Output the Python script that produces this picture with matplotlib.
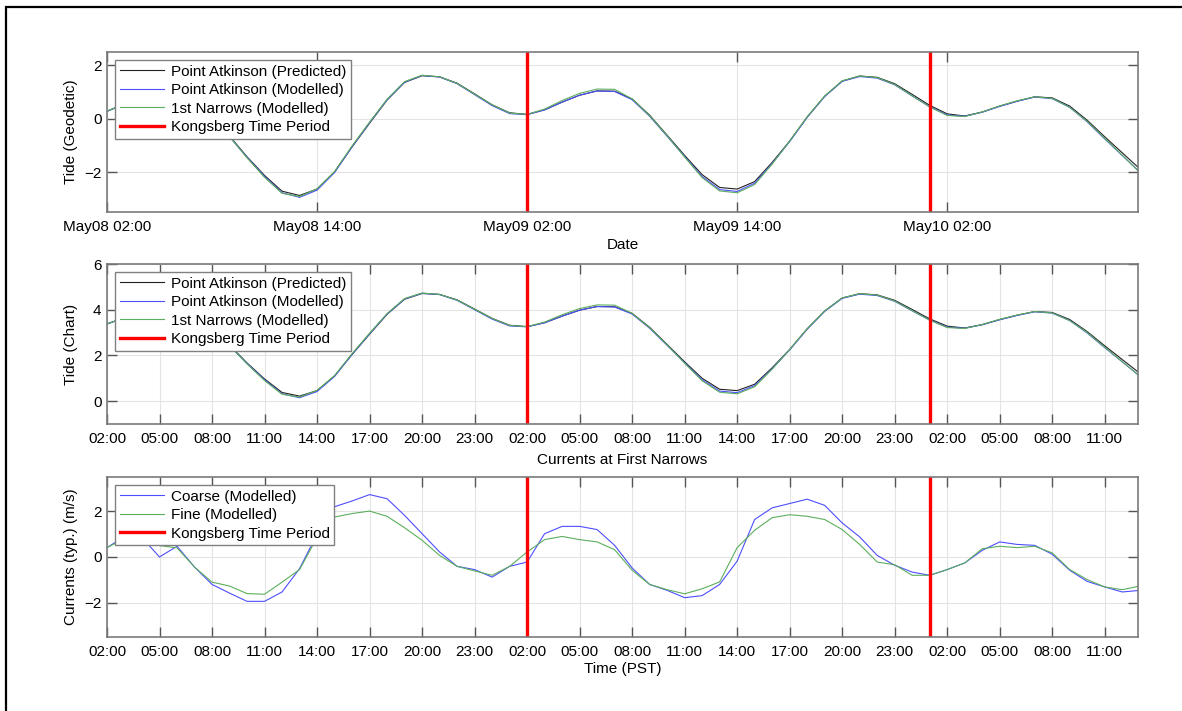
import matplotlib
matplotlib.use('Agg')
import matplotlib.pyplot as plt
from matplotlib.patches import Rectangle

plt.rcParams['font.family'] = ['Liberation Sans', 'DejaVu Sans']
plt.rcParams['font.size'] = 11

# hours since May08 02:00 (PST), one sample per hour
hours = list(range(60))

# tide, geodetic datum (m)
pa_pred_geo = [0.28, 0.55, 0.85, 1.00, 0.96, 0.64, 0.05, -0.65, -1.43, -2.13,
               -2.72, -2.88, -2.64, -2.00, -1.06, -0.17, 0.70, 1.36, 1.61, 1.57,
               1.33, 0.93, 0.52, 0.22, 0.16, 0.33, 0.62, 0.88, 1.04, 1.03,
               0.74, 0.13, -0.62, -1.38, -2.10, -2.58, -2.64, -2.36, -1.64, -0.84,
               0.06, 0.84, 1.41, 1.60, 1.55, 1.31, 0.91, 0.50, 0.18, 0.10,
               0.25, 0.47, 0.66, 0.82, 0.78, 0.47, -0.06, -0.68, -1.28, -1.88]
pa_mod_geo = [0.27, 0.55, 0.85, 1.00, 0.95, 0.62, 0.02, -0.68, -1.45, -2.17,
              -2.78, -2.95, -2.68, -2.02, -1.05, -0.15, 0.71, 1.37, 1.62, 1.56,
              1.31, 0.90, 0.49, 0.19, 0.15, 0.33, 0.62, 0.88, 1.04, 1.02,
              0.71, 0.09, -0.66, -1.42, -2.17, -2.66, -2.73, -2.42, -1.68, -0.86,
              0.05, 0.83, 1.40, 1.58, 1.52, 1.27, 0.85, 0.45, 0.14, 0.09,
              0.24, 0.46, 0.65, 0.81, 0.75, 0.43, -0.12, -0.76, -1.38, -2.00]
fn_mod_geo = [0.28, 0.56, 0.86, 1.02, 0.97, 0.63, 0.03, -0.67, -1.47, -2.20,
              -2.80, -2.92, -2.63, -1.98, -1.02, -0.13, 0.73, 1.39, 1.63, 1.57,
              1.32, 0.92, 0.52, 0.21, 0.16, 0.36, 0.68, 0.95, 1.11, 1.10,
              0.74, 0.11, -0.64, -1.44, -2.21, -2.71, -2.78, -2.47, -1.70, -0.84,
              0.07, 0.85, 1.42, 1.60, 1.54, 1.28, 0.86, 0.44, 0.12, 0.08,
              0.25, 0.48, 0.67, 0.82, 0.76, 0.42, -0.10, -0.74, -1.37, -2.02]

# tide, chart datum (m)
pa_pred_chart = [3.38, 3.65, 3.95, 4.10, 4.06, 3.74, 3.15, 2.45, 1.67, 0.97,
                 0.38, 0.22, 0.46, 1.10, 2.04, 2.93, 3.80, 4.46, 4.71, 4.67,
                 4.43, 4.03, 3.62, 3.32, 3.26, 3.43, 3.72, 3.98, 4.14, 4.13,
                 3.84, 3.23, 2.48, 1.72, 1.00, 0.52, 0.46, 0.74, 1.46, 2.26,
                 3.16, 3.94, 4.51, 4.70, 4.65, 4.41, 4.01, 3.60, 3.28, 3.20,
                 3.35, 3.57, 3.76, 3.92, 3.88, 3.57, 3.04, 2.42, 1.82, 1.22]
pa_mod_chart = [3.37, 3.65, 3.95, 4.10, 4.05, 3.72, 3.12, 2.42, 1.65, 0.93,
                0.32, 0.15, 0.42, 1.08, 2.05, 2.95, 3.81, 4.47, 4.72, 4.66,
                4.41, 4.00, 3.59, 3.29, 3.25, 3.43, 3.72, 3.98, 4.14, 4.12,
                3.81, 3.19, 2.44, 1.68, 0.93, 0.44, 0.37, 0.68, 1.42, 2.24,
                3.15, 3.93, 4.50, 4.68, 4.62, 4.37, 3.95, 3.55, 3.24, 3.19,
                3.34, 3.56, 3.75, 3.91, 3.85, 3.53, 2.98, 2.34, 1.72, 1.10]
fn_mod_chart = [3.38, 3.66, 3.96, 4.12, 4.07, 3.73, 3.13, 2.43, 1.63, 0.90,
                0.30, 0.18, 0.47, 1.12, 2.08, 2.97, 3.83, 4.49, 4.73, 4.67,
                4.42, 4.02, 3.62, 3.31, 3.26, 3.46, 3.78, 4.05, 4.21, 4.20,
                3.84, 3.21, 2.46, 1.66, 0.89, 0.39, 0.32, 0.63, 1.40, 2.26,
                3.17, 3.95, 4.52, 4.70, 4.64, 4.38, 3.96, 3.54, 3.22, 3.18,
                3.35, 3.58, 3.77, 3.92, 3.86, 3.52, 3.00, 2.36, 1.73, 1.08]

# currents at First Narrows (m/s)
coarse = [0.41, 0.90, 0.85, 0.00, 0.47, -0.44, -1.20, -1.58, -1.94, -1.94,
          -1.53, -0.51, 1.00, 2.20, 2.45, 2.73, 2.55, 1.82, 1.02, 0.22,
          -0.41, -0.55, -0.88, -0.41, -0.22, 1.02, 1.34, 1.34, 1.20, 0.51,
          -0.48, -1.20, -1.46, -1.78, -1.69, -1.20, -0.18, 1.64, 2.15, 2.34,
          2.53, 2.26, 1.49, 0.88, 0.07, -0.36, -0.66, -0.80, -0.55, -0.26,
          0.29, 0.66, 0.55, 0.51, 0.12, -0.58, -1.07, -1.31, -1.53, -1.46]
fine = [0.41, 0.80, 0.75, 0.50, 0.40, -0.44, -1.10, -1.27, -1.60, -1.63,
        -1.10, -0.55, 0.85, 1.75, 1.90, 2.01, 1.78, 1.28, 0.73, 0.07,
        -0.41, -0.61, -0.80, -0.41, 0.22, 0.76, 0.90, 0.76, 0.66, 0.32,
        -0.58, -1.20, -1.43, -1.61, -1.39, -1.09, 0.41, 1.17, 1.72, 1.85,
        1.78, 1.64, 1.20, 0.55, -0.22, -0.34, -0.80, -0.80, -0.55, -0.26,
        0.36, 0.47, 0.41, 0.47, 0.18, -0.55, -0.99, -1.31, -1.43, -1.27]

# Kongsberg survey period (hours since May08 02:00)
kongsberg = [24, 47]

date_ticks = [0, 12, 24, 36, 48]
date_labels = ['May08 02:00', 'May08 14:00', 'May09 02:00', 'May09 14:00', 'May10 02:00']
hour_ticks = list(range(0, 58, 3))
hour_labels = ['02:00', '05:00', '08:00', '11:00', '14:00', '17:00', '20:00', '23:00',
               '02:00', '05:00', '08:00', '11:00', '14:00', '17:00', '20:00', '23:00',
               '02:00', '05:00', '08:00', '11:00']

c_black = '#222222'
c_blue = '#4e4eff'
c_green = '#5cae5c'
c_red = '#ff0000'

fig = plt.figure(figsize=(11.82, 7.11), dpi=100)
W, H = 1182, 711

def make_axes(top_px, bot_px):
    return fig.add_axes([107 / W, 1 - bot_px / H, 1031 / W, (bot_px - top_px) / H])

def style(ax, ylim, yticks):
    ax.set_xlim(0, 58.9)
    ax.set_ylim(*ylim)
    ax.set_yticks(yticks)
    ax.grid(True, color='#e4e4e4', lw=0.8)
    ax.set_axisbelow(True)
    for s in ax.spines.values():
        s.set_color('#7a7a7a')
        s.set_linewidth(1.2)
    ax.tick_params(direction='in', length=7.5, width=1, color='#555555',
                   top=True, right=True, labelsize=11)
    ax.tick_params(axis='x', pad=6)
    ax.tick_params(axis='y', pad=4)

def add_kongsberg(ax):
    for i, k in enumerate(kongsberg):
        ax.axvline(k, color=c_red, lw=2.4, label='Kongsberg Time Period' if i == 0 else None)

def add_legend(ax):
    leg = ax.legend(loc='upper left', bbox_to_anchor=(8 / 1031, 1 - 8 / 160),
                    borderaxespad=0, fancybox=False, framealpha=1, fontsize=11,
                    borderpad=0.3, labelspacing=0.3, handlelength=2.9,
                    handletextpad=0.45)
    leg.get_frame().set_edgecolor('#808080')
    leg.get_frame().set_linewidth(1.0)

def set_labels(ax, xlabel, xy, ylabel):
    if xlabel:
        ax.set_xlabel(xlabel, fontsize=11, va='center')
        ax.xaxis.set_label_coords(0.5, xy)
    ax.set_ylabel(ylabel, fontsize=11, va='center')
    ax.yaxis.set_label_coords(-36 / 1031, 0.5)

# tide (geodetic)
ax1 = make_axes(52, 212)
ax1.plot(hours, pa_pred_geo, color=c_black, lw=0.8, label='Point Atkinson (Predicted)')
ax1.plot(hours, pa_mod_geo, color=c_blue, lw=0.8, label='Point Atkinson (Modelled)')
ax1.plot(hours, fn_mod_geo, color=c_green, lw=0.8, label='1st Narrows (Modelled)')
add_kongsberg(ax1)
style(ax1, (-3.5, 2.5), [-2, 0, 2])
ax1.set_xticks(date_ticks)
ax1.set_xticklabels(date_labels)
set_labels(ax1, 'Date', -33 / 160, 'Tide (Geodetic)')
add_legend(ax1)

# tide (chart datum)
ax2 = make_axes(264, 424)
ax2.plot(hours, pa_pred_chart, color=c_black, lw=0.8, label='Point Atkinson (Predicted)')
ax2.plot(hours, pa_mod_chart, color=c_blue, lw=0.8, label='Point Atkinson (Modelled)')
ax2.plot(hours, fn_mod_chart, color=c_green, lw=0.8, label='1st Narrows (Modelled)')
add_kongsberg(ax2)
style(ax2, (-1, 6), [0, 2, 4, 6])
ax2.set_xticks(hour_ticks)
ax2.set_xticklabels(hour_labels)
set_labels(ax2, 'Currents at First Narrows', -36 / 160, 'Tide (Chart)')
add_legend(ax2)

# currents
ax3 = make_axes(477, 637)
ax3.plot(hours, coarse, color=c_blue, lw=0.8, label='Coarse (Modelled)')
ax3.plot(hours, fine, color=c_green, lw=0.8, label='Fine (Modelled)')
add_kongsberg(ax3)
style(ax3, (-3.5, 3.5), [-2, 0, 2])
ax3.set_xticks(hour_ticks)
ax3.set_xticklabels(hour_labels)
set_labels(ax3, 'Time (PST)', -32 / 160, 'Currents (typ.) (m/s)')
add_legend(ax3)

# black frame around the whole thing (cut off at right/bottom like the original)
fig.patches.append(Rectangle((6 / W, -0.05), 1.1, 1 - 7 / H + 0.05, transform=fig.transFigure,
                             fill=False, edgecolor='black', lw=1.6, clip_on=False))

fig.savefig('out.png', dpi=100)
